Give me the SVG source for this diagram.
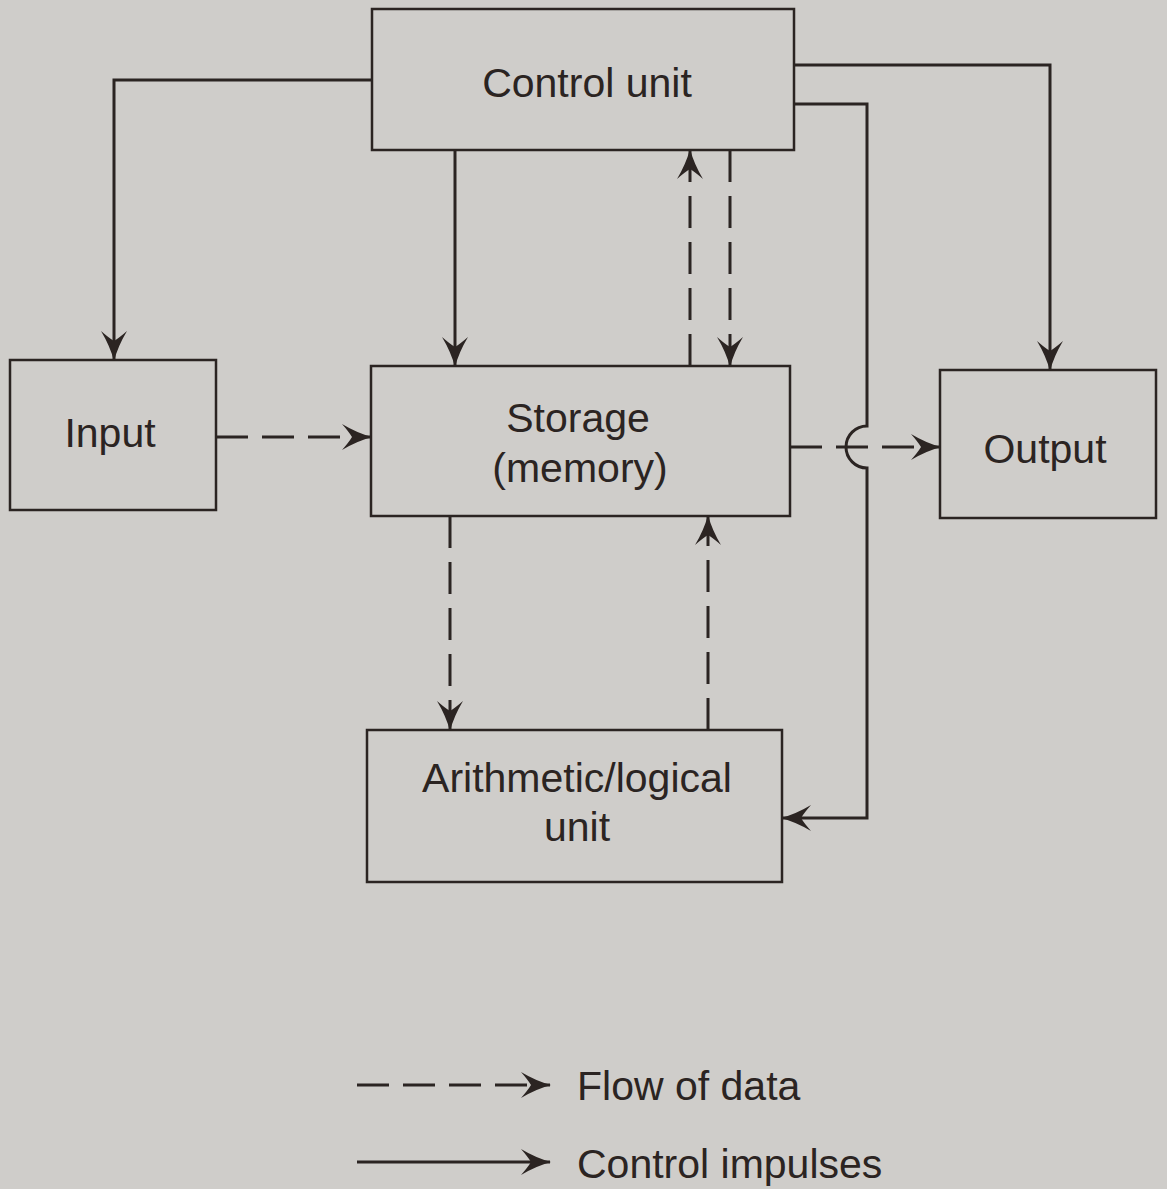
<svg xmlns="http://www.w3.org/2000/svg" width="1167" height="1189" viewBox="0 0 1167 1189">
<style>
.bg{fill:#cfcdca}
.box{fill:none;stroke:#2b2422;stroke-width:2.5}
.ln{fill:none;stroke:#2b2422;stroke-width:3}
.dash{fill:none;stroke:#2b2422;stroke-width:3;stroke-dasharray:32 14}
text{font-family:"Liberation Sans",Arial,sans-serif;font-size:41px;fill:#2b2422;text-anchor:middle}
</style>
<defs>
<marker id="arr" viewBox="-32 -14 35 28" refX="0" refY="0" markerWidth="35" markerHeight="28" markerUnits="userSpaceOnUse" orient="auto">
<path d="M1,0 Q-14,-4 -29,-13 Q-22,-5 -19,0 Q-22,5 -29,13 Q-14,4 1,0 Z" fill="#2b2422"/>
</marker>
</defs>
<rect class="bg" width="1167" height="1189"/>
<g id="control"><rect class="box" x="372" y="9" width="422" height="141"/><text x="587" y="97">Control unit</text></g>
<g id="input"><rect class="box" x="10" y="360" width="206" height="150"/><text x="110" y="447">Input</text></g>
<g id="storage"><rect class="box" x="371" y="366" width="419" height="150"/><text x="578" y="432">Storage</text><text x="580" y="482">(memory)</text></g>
<g id="output"><rect class="box" x="940" y="370" width="216" height="148"/><text x="1045" y="463">Output</text></g>
<g id="alu"><rect class="box" x="367" y="730" width="415" height="152"/><text x="577" y="792">Arithmetic/logical</text><text x="577" y="841">unit</text></g>
<g id="connectors">
<path class="ln" d="M372,80 H114 V360" marker-end="url(#arr)"/>
<path class="ln" d="M455,150 V366" marker-end="url(#arr)"/>
<path class="ln" d="M794,65 H1050 V370" marker-end="url(#arr)"/>
<path class="ln" d="M794,104 H867 V426 A21,21 0 0 0 867,468 V818 H782" marker-end="url(#arr)"/>
<path class="dash" d="M690,366 V150" marker-end="url(#arr)"/>
<path class="dash" d="M730,150 V366" marker-end="url(#arr)"/>
<path class="dash" d="M216,437 H371" marker-end="url(#arr)"/>
<path class="dash" d="M790,447 H940" marker-end="url(#arr)"/>
<path class="dash" d="M450,516 V730" marker-end="url(#arr)"/>
<path class="dash" d="M708,730 V516" marker-end="url(#arr)"/>
</g>
<g id="legend">
<path class="dash" d="M357,1085 H550" stroke-dasharray="38 13" marker-end="url(#arr)"/>
<text x="577" y="1100" style="text-anchor:start">Flow of data</text>
<path class="ln" d="M357,1162 H550" marker-end="url(#arr)"/>
<text x="577" y="1178" style="text-anchor:start">Control impulses</text>
</g>
</svg>
